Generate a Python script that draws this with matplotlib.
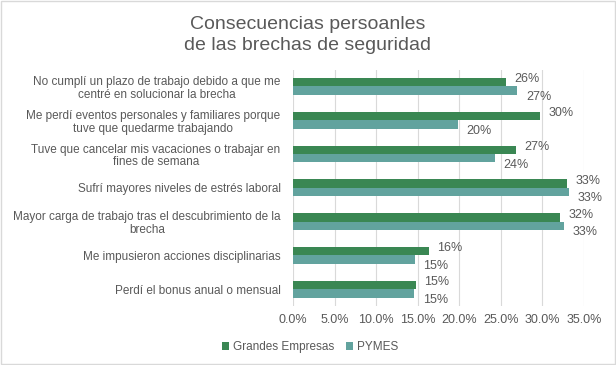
import numpy as np
import matplotlib
matplotlib.use('Agg')
import matplotlib.pyplot as plt
from matplotlib.ticker import FuncFormatter

plt.rcParams['font.family'] = ['Liberation Sans', 'DejaVu Sans']

categorias = ["No cumplí un plazo de trabajo debido a que me\ncentré en solucionar la brecha",
              "Me perdí eventos personales y familiares porque\ntuve que quedarme trabajando",
              "Tuve que cancelar mis vacaciones o trabajar en\nfines de semana",
              "Sufrí mayores niveles de estrés laboral",
              "Mayor carga de trabajo tras el descubrimiento de la\nbrecha",
              "Me impusieron acciones disciplinarias",
              "Perdí el bonus anual o mensual"]
grandes = [25.6, 29.7, 26.8, 33.0, 32.1, 16.3, 14.8]
pymes = [27.0, 19.9, 24.3, 33.2, 32.6, 14.7, 14.6]
series = ["Grandes Empresas", "PYMES"]
colores = ["#3A8753", "#62A39E"]

gris = "#595959"
fig = plt.figure(figsize=(6.16, 3.65), dpi=100)
ax = fig.add_axes([293/616, 1-306/365, (584-293)/616, (306-69.6)/365])

y = np.arange(len(categorias))
h = 0.25
b1 = ax.barh(y - h/2, grandes, height=h, color=colores[0], label=series[0])
b2 = ax.barh(y + h/2, pymes, height=h, color=colores[1], label=series[1])

# etiquetas: la de arriba sube un poco, la de abajo baja
for bars, vals, dy in [(b1, grandes, 2), (b2, pymes, -4.5)]:
    for r, v in zip(bars, vals):
        ax.annotate("%d%%" % round(v), (v, r.get_y() + r.get_height()/2),
                    xytext=(6, dy), textcoords='offset points',
                    va='center', ha='left', fontsize=9, color=gris)

ax.set_ylim(len(categorias) - 0.5, -0.5)
ax.set_xlim(0, 35)
ax.set_xticks(np.arange(0, 36, 5))
ax.xaxis.set_major_formatter(FuncFormatter(lambda v, p: "%.1f%%" % v))
ax.set_yticks(y)
ax.set_yticklabels(categorias, fontsize=8.5, color=gris, ha='right',
                   multialignment='center', linespacing=1.1)
ax.tick_params(axis='y', length=0, pad=9)
ax.tick_params(axis='x', length=0, labelsize=9, labelcolor=gris, pad=6)
ax.grid(axis='x', color='#D9D9D9', linewidth=0.8)
ax.set_axisbelow(True)
for s in ax.spines.values():
    s.set_visible(False)

fig.text(0.5, 0.955, "Consecuencias persoanles\nde las brechas de seguridad",
         ha='center', va='top', fontsize=14, color=gris, linespacing=1.25)

ax.legend(loc='center', bbox_to_anchor=(310/616, 1-347/365), bbox_transform=fig.transFigure,
          ncol=2, frameon=False, fontsize=8.5, labelcolor=gris,
          handlelength=0.6, handleheight=0.6, handletextpad=0.3, columnspacing=1.0)

fig.patches.append(plt.Rectangle((0.002, 0.003), 0.996, 0.994, transform=fig.transFigure,
                                 fill=False, edgecolor='#D9D9D9', linewidth=1))

fig.savefig("out.png", dpi=100)
